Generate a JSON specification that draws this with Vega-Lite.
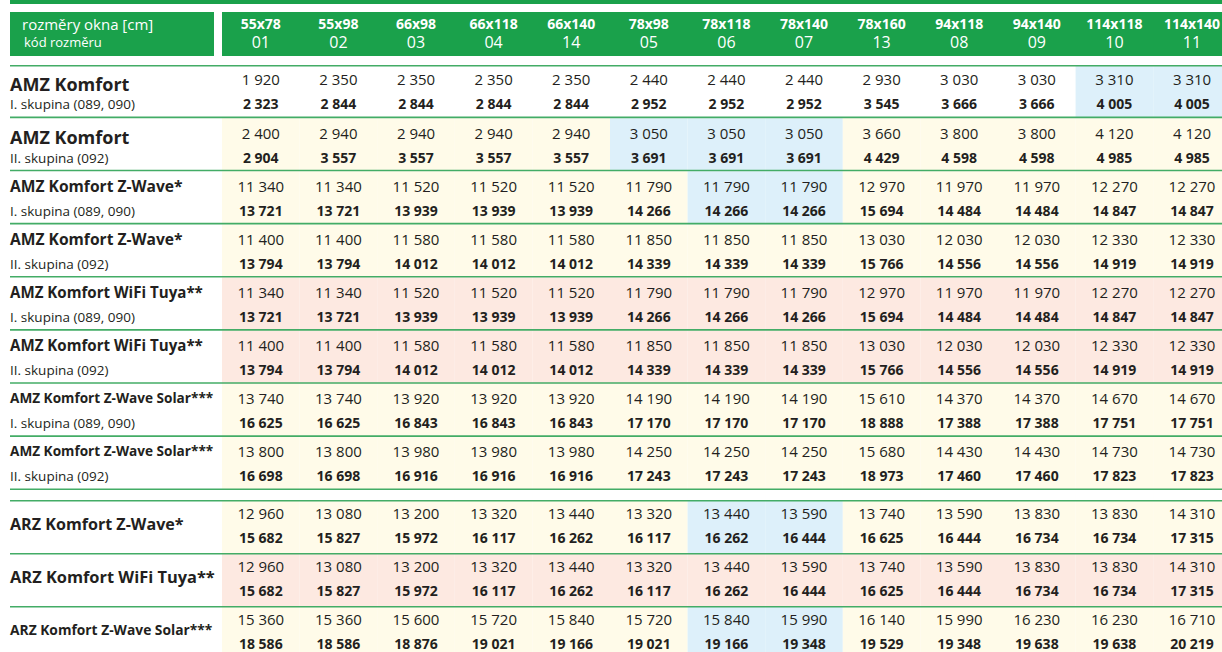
{
  "$schema": "https://vega.github.io/schema/vega-lite/v6.json",
  "padding": {"left": 9, "top": 0, "right": 0, "bottom": 0},
  "background": "white",
  "config": {
    "view": {"stroke": null},
    "locale": {"number": {"decimal": ",", "thousands": " ", "grouping": [3], "currency": ["", " Kč"]}},
    "text": {"font": "Open Sans", "color": "#231f20"}
  },
  "datasets": {
    "hlavicka": [
      {"k": "01", "rozmer": "55x78"}, {"k": "02", "rozmer": "55x98"}, {"k": "03", "rozmer": "66x98"},
      {"k": "04", "rozmer": "66x118"}, {"k": "14", "rozmer": "66x140"}, {"k": "05", "rozmer": "78x98"},
      {"k": "06", "rozmer": "78x118"}, {"k": "07", "rozmer": "78x140"}, {"k": "13", "rozmer": "78x160"},
      {"k": "08", "rozmer": "94x118"}, {"k": "09", "rozmer": "94x140"}, {"k": "10", "rozmer": "114x118"},
      {"k": "11", "rozmer": "114x140"}
    ],
    "radky_amz": [
      {"r": "A1", "nazev": "AMZ Komfort", "skupina": "I. skupina (089, 090)"},
      {"r": "A2", "nazev": "AMZ Komfort", "skupina": "II. skupina (092)"},
      {"r": "A3", "nazev": "AMZ Komfort Z-Wave*", "skupina": "I. skupina (089, 090)"},
      {"r": "A4", "nazev": "AMZ Komfort Z-Wave*", "skupina": "II. skupina (092)"},
      {"r": "A5", "nazev": "AMZ Komfort WiFi Tuya**", "skupina": "I. skupina (089, 090)"},
      {"r": "A6", "nazev": "AMZ Komfort WiFi Tuya**", "skupina": "II. skupina (092)"},
      {"r": "A7", "nazev": "AMZ Komfort Z-Wave Solar***", "skupina": "I. skupina (089, 090)"},
      {"r": "A8", "nazev": "AMZ Komfort Z-Wave Solar***", "skupina": "II. skupina (092)"}
    ],
    "radky_arz": [
      {"r": "B1", "nazev": "ARZ Komfort Z-Wave*"},
      {"r": "B2", "nazev": "ARZ Komfort WiFi Tuya**"},
      {"r": "B3", "nazev": "ARZ Komfort Z-Wave Solar***"}
    ],
    "ceny_amz": [
      {"r":"A1","k":"01","bez":1920,"s":2323,"p":"n"},{"r":"A1","k":"02","bez":2350,"s":2844,"p":"n"},{"r":"A1","k":"03","bez":2350,"s":2844,"p":"n"},{"r":"A1","k":"04","bez":2350,"s":2844,"p":"n"},{"r":"A1","k":"14","bez":2350,"s":2844,"p":"n"},{"r":"A1","k":"05","bez":2440,"s":2952,"p":"n"},{"r":"A1","k":"06","bez":2440,"s":2952,"p":"n"},{"r":"A1","k":"07","bez":2440,"s":2952,"p":"n"},{"r":"A1","k":"13","bez":2930,"s":3545,"p":"n"},{"r":"A1","k":"08","bez":3030,"s":3666,"p":"n"},{"r":"A1","k":"09","bez":3030,"s":3666,"p":"n"},{"r":"A1","k":"10","bez":3310,"s":4005,"p":"m"},{"r":"A1","k":"11","bez":3310,"s":4005,"p":"m"},
      {"r":"A2","k":"01","bez":2400,"s":2904,"p":"z"},{"r":"A2","k":"02","bez":2940,"s":3557,"p":"z"},{"r":"A2","k":"03","bez":2940,"s":3557,"p":"z"},{"r":"A2","k":"04","bez":2940,"s":3557,"p":"z"},{"r":"A2","k":"14","bez":2940,"s":3557,"p":"z"},{"r":"A2","k":"05","bez":3050,"s":3691,"p":"m"},{"r":"A2","k":"06","bez":3050,"s":3691,"p":"m"},{"r":"A2","k":"07","bez":3050,"s":3691,"p":"m"},{"r":"A2","k":"13","bez":3660,"s":4429,"p":"z"},{"r":"A2","k":"08","bez":3800,"s":4598,"p":"z"},{"r":"A2","k":"09","bez":3800,"s":4598,"p":"z"},{"r":"A2","k":"10","bez":4120,"s":4985,"p":"z"},{"r":"A2","k":"11","bez":4120,"s":4985,"p":"z"},
      {"r":"A3","k":"01","bez":11340,"s":13721,"p":"z"},{"r":"A3","k":"02","bez":11340,"s":13721,"p":"z"},{"r":"A3","k":"03","bez":11520,"s":13939,"p":"z"},{"r":"A3","k":"04","bez":11520,"s":13939,"p":"z"},{"r":"A3","k":"14","bez":11520,"s":13939,"p":"z"},{"r":"A3","k":"05","bez":11790,"s":14266,"p":"z"},{"r":"A3","k":"06","bez":11790,"s":14266,"p":"m"},{"r":"A3","k":"07","bez":11790,"s":14266,"p":"m"},{"r":"A3","k":"13","bez":12970,"s":15694,"p":"z"},{"r":"A3","k":"08","bez":11970,"s":14484,"p":"z"},{"r":"A3","k":"09","bez":11970,"s":14484,"p":"z"},{"r":"A3","k":"10","bez":12270,"s":14847,"p":"z"},{"r":"A3","k":"11","bez":12270,"s":14847,"p":"z"},
      {"r":"A4","k":"01","bez":11400,"s":13794,"p":"z"},{"r":"A4","k":"02","bez":11400,"s":13794,"p":"z"},{"r":"A4","k":"03","bez":11580,"s":14012,"p":"z"},{"r":"A4","k":"04","bez":11580,"s":14012,"p":"z"},{"r":"A4","k":"14","bez":11580,"s":14012,"p":"z"},{"r":"A4","k":"05","bez":11850,"s":14339,"p":"z"},{"r":"A4","k":"06","bez":11850,"s":14339,"p":"z"},{"r":"A4","k":"07","bez":11850,"s":14339,"p":"z"},{"r":"A4","k":"13","bez":13030,"s":15766,"p":"z"},{"r":"A4","k":"08","bez":12030,"s":14556,"p":"z"},{"r":"A4","k":"09","bez":12030,"s":14556,"p":"z"},{"r":"A4","k":"10","bez":12330,"s":14919,"p":"z"},{"r":"A4","k":"11","bez":12330,"s":14919,"p":"z"},
      {"r":"A5","k":"01","bez":11340,"s":13721,"p":"r"},{"r":"A5","k":"02","bez":11340,"s":13721,"p":"r"},{"r":"A5","k":"03","bez":11520,"s":13939,"p":"r"},{"r":"A5","k":"04","bez":11520,"s":13939,"p":"r"},{"r":"A5","k":"14","bez":11520,"s":13939,"p":"r"},{"r":"A5","k":"05","bez":11790,"s":14266,"p":"r"},{"r":"A5","k":"06","bez":11790,"s":14266,"p":"r"},{"r":"A5","k":"07","bez":11790,"s":14266,"p":"r"},{"r":"A5","k":"13","bez":12970,"s":15694,"p":"r"},{"r":"A5","k":"08","bez":11970,"s":14484,"p":"r"},{"r":"A5","k":"09","bez":11970,"s":14484,"p":"r"},{"r":"A5","k":"10","bez":12270,"s":14847,"p":"r"},{"r":"A5","k":"11","bez":12270,"s":14847,"p":"r"},
      {"r":"A6","k":"01","bez":11400,"s":13794,"p":"r"},{"r":"A6","k":"02","bez":11400,"s":13794,"p":"r"},{"r":"A6","k":"03","bez":11580,"s":14012,"p":"r"},{"r":"A6","k":"04","bez":11580,"s":14012,"p":"r"},{"r":"A6","k":"14","bez":11580,"s":14012,"p":"r"},{"r":"A6","k":"05","bez":11850,"s":14339,"p":"r"},{"r":"A6","k":"06","bez":11850,"s":14339,"p":"r"},{"r":"A6","k":"07","bez":11850,"s":14339,"p":"r"},{"r":"A6","k":"13","bez":13030,"s":15766,"p":"r"},{"r":"A6","k":"08","bez":12030,"s":14556,"p":"r"},{"r":"A6","k":"09","bez":12030,"s":14556,"p":"r"},{"r":"A6","k":"10","bez":12330,"s":14919,"p":"r"},{"r":"A6","k":"11","bez":12330,"s":14919,"p":"r"},
      {"r":"A7","k":"01","bez":13740,"s":16625,"p":"z"},{"r":"A7","k":"02","bez":13740,"s":16625,"p":"z"},{"r":"A7","k":"03","bez":13920,"s":16843,"p":"z"},{"r":"A7","k":"04","bez":13920,"s":16843,"p":"z"},{"r":"A7","k":"14","bez":13920,"s":16843,"p":"z"},{"r":"A7","k":"05","bez":14190,"s":17170,"p":"z"},{"r":"A7","k":"06","bez":14190,"s":17170,"p":"z"},{"r":"A7","k":"07","bez":14190,"s":17170,"p":"z"},{"r":"A7","k":"13","bez":15610,"s":18888,"p":"z"},{"r":"A7","k":"08","bez":14370,"s":17388,"p":"z"},{"r":"A7","k":"09","bez":14370,"s":17388,"p":"z"},{"r":"A7","k":"10","bez":14670,"s":17751,"p":"z"},{"r":"A7","k":"11","bez":14670,"s":17751,"p":"z"},
      {"r":"A8","k":"01","bez":13800,"s":16698,"p":"z"},{"r":"A8","k":"02","bez":13800,"s":16698,"p":"z"},{"r":"A8","k":"03","bez":13980,"s":16916,"p":"z"},{"r":"A8","k":"04","bez":13980,"s":16916,"p":"z"},{"r":"A8","k":"14","bez":13980,"s":16916,"p":"z"},{"r":"A8","k":"05","bez":14250,"s":17243,"p":"z"},{"r":"A8","k":"06","bez":14250,"s":17243,"p":"z"},{"r":"A8","k":"07","bez":14250,"s":17243,"p":"z"},{"r":"A8","k":"13","bez":15680,"s":18973,"p":"z"},{"r":"A8","k":"08","bez":14430,"s":17460,"p":"z"},{"r":"A8","k":"09","bez":14430,"s":17460,"p":"z"},{"r":"A8","k":"10","bez":14730,"s":17823,"p":"z"},{"r":"A8","k":"11","bez":14730,"s":17823,"p":"z"}
    ],
    "ceny_arz": [
      {"r":"B1","k":"01","bez":12960,"s":15682,"p":"z"},{"r":"B1","k":"02","bez":13080,"s":15827,"p":"z"},{"r":"B1","k":"03","bez":13200,"s":15972,"p":"z"},{"r":"B1","k":"04","bez":13320,"s":16117,"p":"z"},{"r":"B1","k":"14","bez":13440,"s":16262,"p":"z"},{"r":"B1","k":"05","bez":13320,"s":16117,"p":"z"},{"r":"B1","k":"06","bez":13440,"s":16262,"p":"m"},{"r":"B1","k":"07","bez":13590,"s":16444,"p":"m"},{"r":"B1","k":"13","bez":13740,"s":16625,"p":"z"},{"r":"B1","k":"08","bez":13590,"s":16444,"p":"z"},{"r":"B1","k":"09","bez":13830,"s":16734,"p":"z"},{"r":"B1","k":"10","bez":13830,"s":16734,"p":"z"},{"r":"B1","k":"11","bez":14310,"s":17315,"p":"z"},
      {"r":"B2","k":"01","bez":12960,"s":15682,"p":"r"},{"r":"B2","k":"02","bez":13080,"s":15827,"p":"r"},{"r":"B2","k":"03","bez":13200,"s":15972,"p":"r"},{"r":"B2","k":"04","bez":13320,"s":16117,"p":"r"},{"r":"B2","k":"14","bez":13440,"s":16262,"p":"r"},{"r":"B2","k":"05","bez":13320,"s":16117,"p":"r"},{"r":"B2","k":"06","bez":13440,"s":16262,"p":"r"},{"r":"B2","k":"07","bez":13590,"s":16444,"p":"r"},{"r":"B2","k":"13","bez":13740,"s":16625,"p":"r"},{"r":"B2","k":"08","bez":13590,"s":16444,"p":"r"},{"r":"B2","k":"09","bez":13830,"s":16734,"p":"r"},{"r":"B2","k":"10","bez":13830,"s":16734,"p":"r"},{"r":"B2","k":"11","bez":14310,"s":17315,"p":"r"},
      {"r":"B3","k":"01","bez":15360,"s":18586,"p":"z"},{"r":"B3","k":"02","bez":15360,"s":18586,"p":"z"},{"r":"B3","k":"03","bez":15600,"s":18876,"p":"z"},{"r":"B3","k":"04","bez":15720,"s":19021,"p":"z"},{"r":"B3","k":"14","bez":15840,"s":19166,"p":"z"},{"r":"B3","k":"05","bez":15720,"s":19021,"p":"z"},{"r":"B3","k":"06","bez":15840,"s":19166,"p":"m"},{"r":"B3","k":"07","bez":15990,"s":19348,"p":"m"},{"r":"B3","k":"13","bez":16140,"s":19529,"p":"z"},{"r":"B3","k":"08","bez":15990,"s":19348,"p":"z"},{"r":"B3","k":"09","bez":16230,"s":19638,"p":"z"},{"r":"B3","k":"10","bez":16230,"s":19638,"p":"z"},{"r":"B3","k":"11","bez":16710,"s":20219,"p":"z"}
    ]
  },
  "vconcat": [
    {
      "width": 1213, "height": 4,
      "data": {"values": [{"prvek": "pruh"}]},
      "mark": {"type": "rect", "color": "#1aa14b"},
      "encoding": {}
    },
    {
      "hconcat": [
        {
          "width": 204, "height": 44,
          "layer": [
            {"data": {"values": [{"prvek": "hlavicka"}]}, "mark": {"type": "rect", "color": "#1aa14b"}, "encoding": {}},
            {
              "data": {"values": [{"radek": "rozmer", "popis": "rozměry okna [cm]"}]},
              "mark": {"type": "text", "align": "left", "baseline": "middle", "dx": 12, "fontSize": 15, "color": "white"},
              "encoding": {
                "x": {"datum": 0, "type": "quantitative", "scale": {"domain": [0, 1]}, "axis": null},
                "y": {"field": "radek", "type": "nominal", "scale": {"domain": ["rozmer", "kod"], "range": [4, 40], "paddingInner": 0, "paddingOuter": 0}, "axis": null},
                "text": {"field": "popis"}
              }
            },
            {
              "data": {"values": [{"radek": "kod", "popis": "kód rozměru"}]},
              "mark": {"type": "text", "align": "left", "baseline": "middle", "dx": 14, "fontSize": 13, "color": "white"},
              "encoding": {
                "x": {"datum": 0, "type": "quantitative", "scale": {"domain": [0, 1]}, "axis": null},
                "y": {"field": "radek", "type": "nominal", "scale": {"domain": ["rozmer", "kod"], "range": [4, 40], "paddingInner": 0, "paddingOuter": 0}, "axis": null},
                "text": {"field": "popis"}
              }
            }
          ]
        },
        {
          "width": 1001, "height": 44,
          "layer": [
            {"data": {"values": [{"prvek": "hlavicka"}]}, "mark": {"type": "rect", "color": "#1aa14b"}, "encoding": {}},
            {
              "data": {"name": "hlavicka"},
              "mark": {"type": "text", "baseline": "middle", "fontSize": 14, "fontWeight": "bold", "color": "white"},
              "encoding": {
                "x": {"field": "k", "type": "nominal", "scale": {"domain": ["01","02","03","04","14","05","06","07","13","08","09","10","11"], "range": [0, 1008.8], "paddingInner": 0, "paddingOuter": 0}, "axis": null},
                "y": {"datum": "rozmer", "type": "nominal", "scale": {"domain": ["rozmer", "kod"], "range": [4, 40], "paddingInner": 0, "paddingOuter": 0}, "axis": null},
                "text": {"field": "rozmer"}
              }
            },
            {
              "data": {"name": "hlavicka"},
              "mark": {"type": "text", "baseline": "middle", "fontSize": 16, "color": "white"},
              "encoding": {
                "x": {"field": "k", "type": "nominal", "scale": {"domain": ["01","02","03","04","14","05","06","07","13","08","09","10","11"], "range": [0, 1008.8], "paddingInner": 0, "paddingOuter": 0}, "axis": null},
                "y": {"datum": "kod", "type": "nominal", "scale": {"domain": ["rozmer", "kod"], "range": [4, 40], "paddingInner": 0, "paddingOuter": 0}, "axis": null},
                "text": {"field": "k"}
              }
            }
          ]
        }
      ],
      "spacing": 8,
      "bounds": "flush"
    },
    {
      "hconcat": [
        {
          "width": 212, "height": 425,
          "data": {"name": "radky_amz"},
          "layer": [
            {
              "mark": {"type": "rule", "color": "#43ac66", "strokeWidth": 1.6},
              "encoding": {"y": {"field": "r", "type": "nominal", "bandPosition": 0.985, "scale": {"domain": ["A1","A2","A3","A4","A5","A6","A7","A8"], "paddingInner": 0, "paddingOuter": 0}, "axis": null}}
            },
            {
              "transform": [{"filter": {"field": "r", "equal": "A1"}}],
              "mark": {"type": "rule", "color": "#43ac66", "strokeWidth": 1.6},
              "encoding": {"y": {"field": "r", "type": "nominal", "bandPosition": 0.015, "scale": {"domain": ["A1","A2","A3","A4","A5","A6","A7","A8"], "paddingInner": 0, "paddingOuter": 0}, "axis": null}}
            },
            {
              "transform": [{"filter": {"field": "nazev", "equal": "AMZ Komfort"}}],
              "mark": {"type": "text", "align": "left", "baseline": "middle", "fontSize": 18, "fontWeight": "bold"},
              "encoding": {
                "x": {"datum": 0, "type": "quantitative", "scale": {"domain": [0, 1]}, "axis": null},
                "y": {"field": "r", "type": "nominal", "bandPosition": 0.39, "scale": {"domain": ["A1","A2","A3","A4","A5","A6","A7","A8"], "paddingInner": 0, "paddingOuter": 0}, "axis": null},
                "text": {"field": "nazev"}
              }
            },
            {
              "transform": [{"filter": {"not": {"field": "nazev", "equal": "AMZ Komfort"}}}],
              "mark": {"type": "text", "align": "left", "baseline": "middle", "fontWeight": "bold"},
              "encoding": {
                "x": {"datum": 0, "type": "quantitative", "scale": {"domain": [0, 1]}, "axis": null},
                "y": {"field": "r", "type": "nominal", "bandPosition": 0.29, "scale": {"domain": ["A1","A2","A3","A4","A5","A6","A7","A8"], "paddingInner": 0, "paddingOuter": 0}, "axis": null},
                "text": {"field": "nazev"},
                "size": {"condition": [{"test": "datum.nazev === 'AMZ Komfort Z-Wave*'", "value": 15.6}, {"test": "datum.nazev === 'AMZ Komfort WiFi Tuya**'", "value": 15.1}], "value": 13.6}
              }
            },
            {
              "mark": {"type": "text", "align": "left", "baseline": "middle", "fontSize": 13.5},
              "encoding": {
                "x": {"datum": 0, "type": "quantitative", "scale": {"domain": [0, 1]}, "axis": null},
                "y": {"field": "r", "type": "nominal", "bandPosition": 0.76, "scale": {"domain": ["A1","A2","A3","A4","A5","A6","A7","A8"], "paddingInner": 0, "paddingOuter": 0}, "axis": null},
                "text": {"field": "skupina"}
              }
            }
          ]
        },
        {
          "width": 1001, "height": 425,
          "layer": [
            {
              "data": {"name": "ceny_amz"},
              "mark": {"type": "rect", "clip": true},
              "encoding": {
                "x": {"field": "k", "type": "nominal", "scale": {"domain": ["01","02","03","04","14","05","06","07","13","08","09","10","11"], "range": [0, 1008.8], "paddingInner": 0, "paddingOuter": 0}, "axis": null},
                "y": {"field": "r", "type": "nominal", "scale": {"domain": ["A1","A2","A3","A4","A5","A6","A7","A8"], "paddingInner": 0, "paddingOuter": 0}, "axis": null},
                "color": {"field": "p", "type": "nominal", "scale": {"domain": ["n","z","m","r"], "range": ["#ffffff","#fffbe9","#ddf0fa","#fde9e1"]}, "legend": null}
              }
            },
            {
              "data": {"name": "radky_amz"},
              "mark": {"type": "rule", "color": "#43ac66", "strokeWidth": 1.6},
              "encoding": {"y": {"field": "r", "type": "nominal", "bandPosition": 0.985, "scale": {"domain": ["A1","A2","A3","A4","A5","A6","A7","A8"], "paddingInner": 0, "paddingOuter": 0}, "axis": null}}
            },
            {
              "data": {"name": "radky_amz"},
              "transform": [{"filter": {"field": "r", "equal": "A1"}}],
              "mark": {"type": "rule", "color": "#43ac66", "strokeWidth": 1.6},
              "encoding": {"y": {"field": "r", "type": "nominal", "bandPosition": 0.015, "scale": {"domain": ["A1","A2","A3","A4","A5","A6","A7","A8"], "paddingInner": 0, "paddingOuter": 0}, "axis": null}}
            },
            {
              "data": {"name": "ceny_amz"},
              "mark": {"type": "text", "baseline": "middle", "fontSize": 15},
              "encoding": {
                "x": {"field": "k", "type": "nominal", "scale": {"domain": ["01","02","03","04","14","05","06","07","13","08","09","10","11"], "range": [0, 1008.8], "paddingInner": 0, "paddingOuter": 0}, "axis": null},
                "y": {"field": "r", "type": "nominal", "bandPosition": 0.29, "scale": {"domain": ["A1","A2","A3","A4","A5","A6","A7","A8"], "paddingInner": 0, "paddingOuter": 0}, "axis": null},
                "text": {"field": "bez", "type": "quantitative", "format": ",d"}
              }
            },
            {
              "data": {"name": "ceny_amz"},
              "mark": {"type": "text", "baseline": "middle", "fontSize": 14, "fontWeight": "bold"},
              "encoding": {
                "x": {"field": "k", "type": "nominal", "scale": {"domain": ["01","02","03","04","14","05","06","07","13","08","09","10","11"], "range": [0, 1008.8], "paddingInner": 0, "paddingOuter": 0}, "axis": null},
                "y": {"field": "r", "type": "nominal", "bandPosition": 0.76, "scale": {"domain": ["A1","A2","A3","A4","A5","A6","A7","A8"], "paddingInner": 0, "paddingOuter": 0}, "axis": null},
                "text": {"field": "s", "type": "quantitative", "format": ",d"}
              }
            }
          ]
        }
      ],
      "spacing": 0,
      "bounds": "flush"
    },
    {
      "hconcat": [
        {
          "width": 212, "height": 155,
          "data": {"name": "radky_arz"},
          "layer": [
            {
              "mark": {"type": "rule", "color": "#43ac66", "strokeWidth": 1.6},
              "encoding": {"y": {"field": "r", "type": "nominal", "bandPosition": 0.015, "scale": {"domain": ["B1","B2","B3"], "range": [0, 159], "paddingInner": 0, "paddingOuter": 0}, "axis": null}}
            },
            {
              "mark": {"type": "text", "align": "left", "baseline": "middle", "fontWeight": "bold"},
              "encoding": {
                "x": {"datum": 0, "type": "quantitative", "scale": {"domain": [0, 1]}, "axis": null},
                "y": {"field": "r", "type": "nominal", "bandPosition": 0.47, "scale": {"domain": ["B1","B2","B3"], "range": [0, 159], "paddingInner": 0, "paddingOuter": 0}, "axis": null},
                "text": {"field": "nazev"},
                "size": {"condition": [{"test": "datum.nazev === 'ARZ Komfort Z-Wave*'", "value": 16.1}, {"test": "datum.nazev === 'ARZ Komfort WiFi Tuya**'", "value": 16.4}], "value": 13.8}
              }
            }
          ]
        },
        {
          "width": 1001, "height": 155,
          "layer": [
            {
              "data": {"name": "ceny_arz"},
              "mark": {"type": "rect", "clip": true},
              "encoding": {
                "x": {"field": "k", "type": "nominal", "scale": {"domain": ["01","02","03","04","14","05","06","07","13","08","09","10","11"], "range": [0, 1008.8], "paddingInner": 0, "paddingOuter": 0}, "axis": null},
                "y": {"field": "r", "type": "nominal", "scale": {"domain": ["B1","B2","B3"], "range": [0, 159], "paddingInner": 0, "paddingOuter": 0}, "axis": null},
                "color": {"field": "p", "type": "nominal", "scale": {"domain": ["n","z","m","r"], "range": ["#ffffff","#fffbe9","#ddf0fa","#fde9e1"]}, "legend": null}
              }
            },
            {
              "data": {"name": "radky_arz"},
              "mark": {"type": "rule", "color": "#43ac66", "strokeWidth": 1.6},
              "encoding": {"y": {"field": "r", "type": "nominal", "bandPosition": 0.015, "scale": {"domain": ["B1","B2","B3"], "range": [0, 159], "paddingInner": 0, "paddingOuter": 0}, "axis": null}}
            },
            {
              "data": {"name": "ceny_arz"},
              "mark": {"type": "text", "baseline": "middle", "fontSize": 15},
              "encoding": {
                "x": {"field": "k", "type": "nominal", "scale": {"domain": ["01","02","03","04","14","05","06","07","13","08","09","10","11"], "range": [0, 1008.8], "paddingInner": 0, "paddingOuter": 0}, "axis": null},
                "y": {"field": "r", "type": "nominal", "bandPosition": 0.27, "scale": {"domain": ["B1","B2","B3"], "range": [0, 159], "paddingInner": 0, "paddingOuter": 0}, "axis": null},
                "text": {"field": "bez", "type": "quantitative", "format": ",d"}
              }
            },
            {
              "data": {"name": "ceny_arz"},
              "mark": {"type": "text", "baseline": "middle", "fontSize": 14, "fontWeight": "bold"},
              "encoding": {
                "x": {"field": "k", "type": "nominal", "scale": {"domain": ["01","02","03","04","14","05","06","07","13","08","09","10","11"], "range": [0, 1008.8], "paddingInner": 0, "paddingOuter": 0}, "axis": null},
                "y": {"field": "r", "type": "nominal", "bandPosition": 0.73, "scale": {"domain": ["B1","B2","B3"], "range": [0, 159], "paddingInner": 0, "paddingOuter": 0}, "axis": null},
                "text": {"field": "s", "type": "quantitative", "format": ",d"}
              }
            }
          ]
        }
      ],
      "spacing": 0,
      "bounds": "flush"
    }
  ],
  "spacing": 8
}
